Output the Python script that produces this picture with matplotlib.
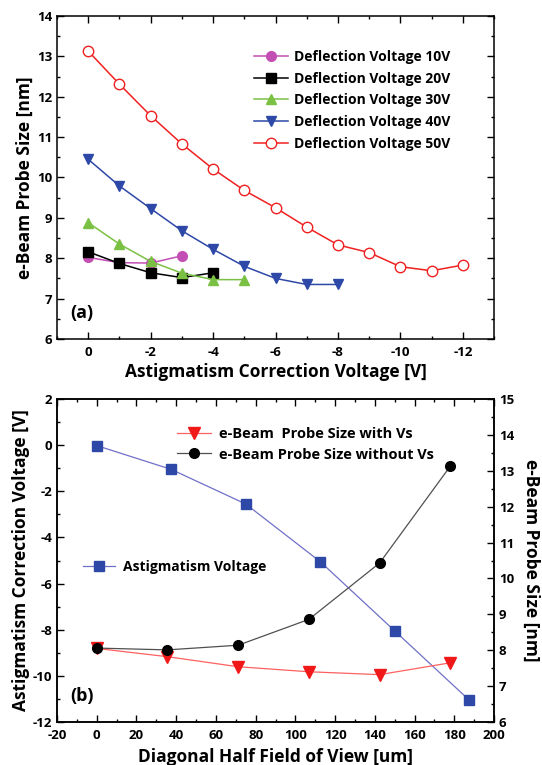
import numpy as np
import matplotlib.pyplot as plt
from matplotlib.ticker import MultipleLocator, FormatStrFormatter
from matplotlib import font_manager as fm

plt.rcParams['font.family'] = ['Open Sans', 'DejaVu Sans']
plt.rcParams['font.weight'] = 'bold'
plt.rcParams['axes.unicode_minus'] = False

# panel (a) data
v10_x = [0, -1, -2, -3]
v10_y = [8.02, 7.89, 7.88, 8.06]
v20_x = [0, -1, -2, -3, -4]
v20_y = [8.16, 7.87, 7.64, 7.52, 7.64]
v30_x = [0, -1, -2, -3, -4, -5]
v30_y = [8.88, 8.35, 7.92, 7.63, 7.47, 7.47]
v40_x = [0, -1, -2, -3, -4, -5, -6, -7, -8]
v40_y = [10.45, 9.79, 9.23, 8.68, 8.22, 7.8, 7.5, 7.35, 7.35]
v50_x = [0, -1, -2, -3, -4, -5, -6, -7, -8, -9, -10, -11, -12]
v50_y = [13.13, 12.31, 11.53, 10.83, 10.21, 9.68, 9.25, 8.77, 8.33, 8.14, 7.79, 7.69, 7.83]

# panel (b) data
astig_x = [0, 37.5, 75, 112.5, 150, 187.5]
astig_y = [-0.02, -1.05, -2.55, -5.05, -8.05, -11.05]
fov_x = [0, 35.6, 71.2, 106.8, 142.4, 178]
with_vs = [8.05, 7.82, 7.54, 7.40, 7.32, 7.65]
without_vs = [8.06, 8.01, 8.14, 8.86, 10.43, 13.13]

fig = plt.figure(figsize=(5.42, 7.65), dpi=100)
axa = fig.add_axes([0.1052, 0.5569, 0.8063, 0.4222])
axb = fig.add_axes([0.1052, 0.0562, 0.8063, 0.4222])

tick_fs = 9.5
lab_fs = 12.5
bold_file = fm.findfont(fm.FontProperties(family='Open Sans', weight='bold'))
tick_font = fm.FontProperties(fname=bold_file, size=tick_fs)

def style(ax, right=True):
    for s in ax.spines.values():
        s.set_linewidth(1.1)
    ax.tick_params(which='both', direction='in', top=True, right=right,
                   labelsize=tick_fs, width=1.0)
    ax.tick_params(which='major', length=5)
    ax.tick_params(which='minor', length=2.5)
    ax.tick_params(axis='x', pad=5)
    ax.xaxis.set_major_formatter(FormatStrFormatter('%g'))
    ax.yaxis.set_major_formatter(FormatStrFormatter('%g'))

# ---- (a)
ms = 7
axa.plot(v10_x, v10_y, '-o', color='#C44FB4', lw=1.1, ms=ms, label='Deflection Voltage 10V')
axa.plot(v20_x, v20_y, '-s', color='black', lw=1.1, ms=ms - 0.5, label='Deflection Voltage 20V')
axa.plot(v30_x, v30_y, '-^', color='#7AC143', lw=1.1, ms=ms + 0.5, label='Deflection Voltage 30V')
axa.plot(v40_x, v40_y, '-v', color='#2E48A8', lw=1.1, ms=ms + 0.5, label='Deflection Voltage 40V')
axa.plot(v50_x, v50_y, '-o', color='#F02020', lw=1.1, ms=ms + 0.5, mfc='white', label='Deflection Voltage 50V')
axa.set_xlim(1, -13)
axa.set_ylim(6, 14)
axa.xaxis.set_major_locator(MultipleLocator(2))
axa.xaxis.set_minor_locator(MultipleLocator(1))
axa.yaxis.set_major_locator(MultipleLocator(1))
axa.yaxis.set_minor_locator(MultipleLocator(0.5))
style(axa)
axa.set_xlabel('Astigmatism Correction Voltage [V]', fontsize=lab_fs, fontweight='bold', labelpad=3)
axa.set_ylabel('e-Beam Probe Size [nm]', fontsize=lab_fs, fontweight='bold', labelpad=2)
axa.text(0.03, 0.08, '(a)', transform=axa.transAxes, fontsize=13, fontweight='bold', va='center')
axa.legend(loc='upper left', bbox_to_anchor=(254 / 542, 1 - 50 / 765), bbox_transform=fig.transFigure,
           frameon=False, handlelength=2.45, handletextpad=0.4, labelspacing=0.55,
           borderpad=0, borderaxespad=0, prop={'weight': 'bold', 'size': 10})

# ---- (b)
axb.plot(astig_x, astig_y, '-s', color='#7070C8', lw=0.9, ms=7, mfc='#2E48A8', mec='#2E48A8',
         label='Astigmatism Voltage')
axb.set_xlim(-20, 200)
axb.set_ylim(-12, 2)
axb.xaxis.set_major_locator(MultipleLocator(20))
axb.xaxis.set_minor_locator(MultipleLocator(10))
axb.yaxis.set_major_locator(MultipleLocator(2))
axb.yaxis.set_minor_locator(MultipleLocator(1))
style(axb, right=False)
axb.set_xlabel('Diagonal Half Field of View [um]', fontsize=lab_fs, fontweight='bold', labelpad=4)
axb.set_ylabel('Astigmatism Correction Voltage [V]', fontsize=lab_fs, fontweight='bold', labelpad=2)
axb.text(0.03, 0.08, '(b)', transform=axb.transAxes, fontsize=13, fontweight='bold', va='center')

ax2 = axb.twinx()
ax2.plot(fov_x, with_vs, '-v', color='#FF6060', lw=0.9, ms=8, mfc='#F01818', mec='#F01818',
         label='e-Beam  Probe Size with Vs')
ax2.plot(fov_x, without_vs, '-o', color='#505050', lw=0.9, ms=7, mfc='black', mec='black',
         label='e-Beam Probe Size without Vs')
ax2.set_ylim(6, 15)
ax2.yaxis.set_major_locator(MultipleLocator(1))
ax2.yaxis.set_minor_locator(MultipleLocator(0.5))
ax2.yaxis.set_major_formatter(FormatStrFormatter('%g'))
for s in ax2.spines.values():
    s.set_linewidth(1.1)
ax2.tick_params(which='both', direction='in', labelsize=tick_fs, width=1.0)
ax2.tick_params(which='major', length=5)
ax2.tick_params(which='minor', length=2.5)
ax2.set_ylabel('e-Beam Probe Size [nm]', fontsize=lab_fs, fontweight='bold', rotation=270, labelpad=19)

ax2.legend(loc='upper left', bbox_to_anchor=(177 / 542, 1 - 427 / 765), bbox_transform=fig.transFigure,
           frameon=False, handlelength=2.3, handletextpad=0.6, labelspacing=0.45,
           borderpad=0, borderaxespad=0, prop={'weight': 'bold', 'size': 10.5})
axb.legend(loc='upper left', bbox_to_anchor=(83 / 542, 1 - 560 / 765), bbox_transform=fig.transFigure,
           frameon=False, handlelength=2.3, handletextpad=0.6,
           borderpad=0, borderaxespad=0, prop={'weight': 'bold', 'size': 10})

# tick labels in the bold face file
fig.canvas.draw()
for ax in (axa, axb, ax2):
    for t in ax.get_xticklabels() + ax.get_yticklabels():
        t.set_fontproperties(tick_font)

fig.savefig('out.png', dpi=100)
